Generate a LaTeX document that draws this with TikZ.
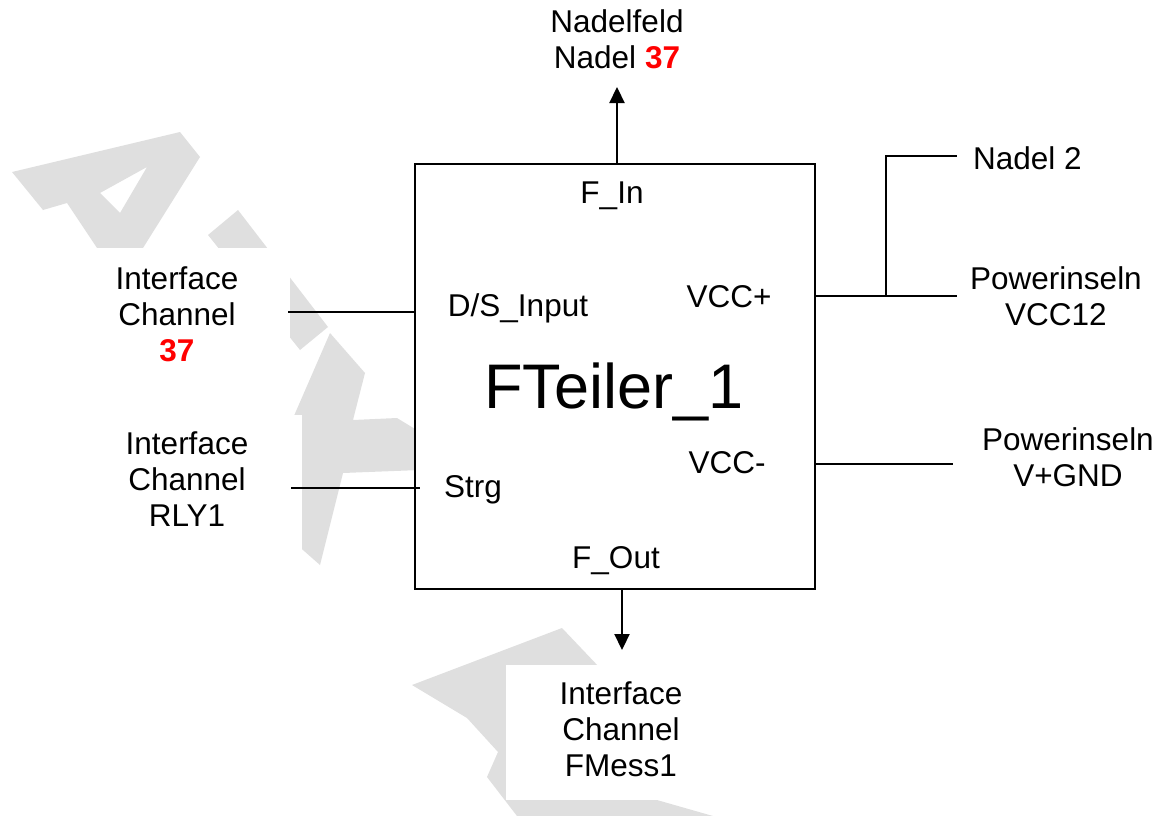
\documentclass[tikz,border=0pt]{standalone}
\usepackage{fontspec}
\setmainfont{Liberation Sans}
\usetikzlibrary{arrows.meta}
\definecolor{wm}{HTML}{DFDFDF}
\definecolor{numred}{HTML}{FF0000}
\tikzset{
  lbl/.style={inner sep=0pt, font=\fontsize{31.5pt}{36pt}\selectfont, align=center},
  big/.style={inner sep=0pt, font=\fontsize{63pt}{72pt}\selectfont},
  wire/.style={line width=2.2pt},
  arr/.style={line width=2.2pt, -{Triangle[length=16pt,width=15pt]}},
  blk/.style={draw, line width=2.2pt, fill=white, minimum width=400pt, minimum height=425pt, inner sep=0pt}
}
\newcommand{\rn}[1]{\textcolor{numred}{\textbf{#1}}}
\begin{document}
\begin{tikzpicture}[x=1pt,y=-1pt]
\useasboundingbox (0,0) rectangle (1160,816);
% watermark
\fill[wm, even odd rule] (12,172) -- (180,132) -- (200,157) -- (143,248) -- (97,248) -- (67,203) -- (43,210) -- cycle
  (100,193) -- (147,167) -- (120,213) -- cycle;
\fill[wm] (208,235) -- (238,210) -- (328,327) -- (300,350) -- cycle;
\fill[wm] (330,333) -- (365,373) -- (353,420) -- (397,418) -- (420,432) -- (420,470) -- (343,473) -- (320,565) -- (295,543) -- (290,425) -- cycle;
\fill[wm] (412,685) -- (562,628) -- (600,668) -- (640,800) -- (657,800) -- (713,816) -- (517,816) -- (487,777) -- (498,752) -- (467,718) -- cycle;
\fill[white] (90,248) rectangle (290,377);
\fill[white] (100,415) rectangle (302,560);
\fill[white] (506,665) rectangle (735,800);
% block
\node[blk] (box) at (615,376.5) {};
% texts
\node[lbl] (nadelfeld) at (617,39.5) {Nadelfeld\\Nadel \rn{37}};
\node[lbl, anchor=base] (fin) at (612,203) {F\_In};
\node[lbl, anchor=base] (dsin) at (518,316) {D/S\_Input};
\node[lbl, anchor=base] (vccp) at (729,307) {VCC+};
\node[big, anchor=base] (title) at (614,408) {FTeiler\_1};
\node[lbl, anchor=base] (vccm) at (727,473) {VCC-};
\node[lbl, anchor=base] (strg) at (473,497) {Strg};
\node[lbl, anchor=base] (fout) at (616,568) {F\_Out};
\node[lbl, anchor=base west] (nadel2) at (973,169) {Nadel 2};
\node[lbl] (ic37) at (177,314.5) {Interface\\Channel\\\rn{37}};
\node[lbl] (icrly) at (187,479.5) {Interface\\Channel\\RLY1};
\node[lbl] (pvcc) at (1056,296.5) {Powerinseln\\VCC12};
\node[lbl] (pgnd) at (1068,457.5) {Powerinseln\\V+GND};
\node[lbl] (icfm) at (621,729.5) {Interface\\Channel\\FMess1};
% connector end points
\coordinate (tipup) at (617,87);
\coordinate (tipdn) at (622,650);
\coordinate (l1) at (288,312);
\coordinate (l2) at (291,488);
\coordinate (l2e) at (420,488);
\coordinate (r1) at (957,296);
\coordinate (br) at (886,296);
\coordinate (brt) at (886,156);
\coordinate (r0) at (957,156);
\coordinate (r2) at (953,464);
% connectors
\draw[arr] (box.north -| tipup) -- (tipup);
\draw[arr] (box.south -| tipdn) -- (tipdn);
\draw[wire] (l1) -- (l1 -| box.west);
\draw[wire] (l2) -- (l2e);
\draw[wire] (box.east |- r1) -- (r1);
\draw[wire] (br) -- (brt) -- (r0);
\draw[wire] (box.east |- r2) -- (r2);
\end{tikzpicture}
\end{document}
